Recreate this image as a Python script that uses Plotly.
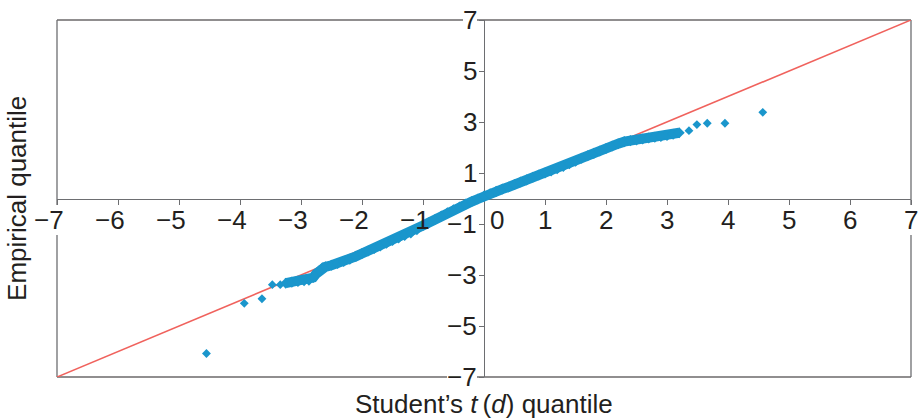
import plotly.graph_objects as go

# ---- data ----
# isolated tail points (theoretical t(d) quantile, empirical quantile)
tail_q = [-4.55, -3.93, -3.64, -3.47, -3.34, 3.36, 3.49, 3.66, 3.95, 4.57]
tail_e = [-6.08, -4.11, -3.93, -3.38, -3.38, 2.66, 2.90, 2.95, 2.95, 3.38]

# dense body of the Q-Q cloud
body_q = [-3.25, -3.15, -3.05, -2.95, -2.87, -2.80, -2.75, -2.70, -2.65,
          -2.60, -2.50, -2.40, -2.30, -2.20, -2.10, -2.00, -1.90, -1.80,
          -1.70, -1.60, -1.50, -1.40, -1.30, -1.20, -1.10, -1.00, -0.90,
          -0.80, -0.70, -0.60, -0.50, -0.40, -0.30, -0.20, -0.10, 0.00,
          0.10, 0.20, 0.30, 0.40, 0.50, 0.60, 0.70, 0.80, 0.90, 1.00,
          1.10, 1.20, 1.30, 1.40, 1.50, 1.60, 1.70, 1.80, 1.90, 2.00,
          2.10, 2.20, 2.30, 2.40, 2.50, 2.60, 2.70, 2.80, 2.90, 3.00,
          3.10, 3.20]
body_e = [-3.32, -3.28, -3.25, -3.22, -3.20, -3.10, -2.95, -2.82, -2.72,
          -2.68, -2.62, -2.55, -2.47, -2.38, -2.27, -2.16, -2.06, -1.96,
          -1.86, -1.75, -1.65, -1.55, -1.45, -1.35, -1.22, -1.06, -0.94,
          -0.81, -0.69, -0.56, -0.44, -0.33, -0.22, -0.12, -0.02, 0.10,
          0.19, 0.28, 0.37, 0.45, 0.55, 0.65, 0.73, 0.83, 0.92, 1.00,
          1.08, 1.17, 1.26, 1.36, 1.46, 1.58, 1.68, 1.77, 1.86, 1.96,
          2.06, 2.15, 2.23, 2.27, 2.30, 2.33, 2.37, 2.40, 2.43, 2.47,
          2.52, 2.58]

# 45-degree reference line endpoints (axis limits)
ref_line = [-7, 7]

x_ticks = [-7, -6, -5, -4, -3, -2, -1, 0, 1, 2, 3, 4, 5, 6, 7]
x_tick_labels = ["\u22127", "\u22126", "\u22125", "\u22124", "\u22123", "\u22122", "\u22121",
                 "0", "1", "2", "3", "4", "5", "6", "7"]
y_ticks = [-7, -5, -3, -1, 1, 3, 5, 7]
y_tick_labels = ["\u22127", "\u22125", "\u22123", "\u22121", "1", "3", "5", "7"]

x_title = "Student\u2019s <i>t</i>\u2009(<i>d</i>) quantile"
y_title = "Empirical quantile"

# ---- styles ----
FONT = "Liberation Sans, Arial, Helvetica, sans-serif"
TXT = "#231f20"
AXIS_GRAY = "#6d6e71"
BLUE = "#1a96cc"
RED = "#f0625d"
FS = 26

fig = go.Figure()
fig.add_trace(go.Scatter(x=ref_line, y=ref_line, mode="lines",
                         line=dict(color=RED, width=1.6), hoverinfo="skip",
                         showlegend=False))
fig.add_trace(go.Scatter(x=body_q, y=body_e, mode="lines+markers",
                         line=dict(color=BLUE, width=10),
                         marker=dict(symbol="diamond", size=8.5, color=BLUE,
                                     line=dict(width=0)),
                         showlegend=False))
fig.add_trace(go.Scatter(x=tail_q, y=tail_e, mode="markers",
                         marker=dict(symbol="diamond", size=6.8, color=BLUE,
                                     line=dict(width=0)),
                         showlegend=False))

fig.update_layout(
    width=921, height=419,
    margin=dict(l=57, r=10, t=20, b=42),
    paper_bgcolor="white", plot_bgcolor="white",
    font=dict(family=FONT, size=FS, color=TXT),
    xaxis=dict(range=[-7, 7], anchor="free", position=0.5,
               showline=True, linecolor=AXIS_GRAY, linewidth=1.3,
               ticks="outside", ticklen=5, tickwidth=1.2, tickcolor=AXIS_GRAY,
               tickvals=x_ticks, showticklabels=False,
               showgrid=False, zeroline=False, layer="below traces"),
    yaxis=dict(range=[-7, 7], anchor="free", position=0.5,
               showline=True, linecolor=AXIS_GRAY, linewidth=1.3,
               ticks="outside", ticklen=5, tickwidth=1.2, tickcolor=AXIS_GRAY,
               tickvals=y_ticks, showticklabels=False,
               showgrid=False, zeroline=False, layer="below traces"),
)

# frame: black top/bottom, gray left/right
fig.add_shape(type="line", xref="paper", yref="paper", x0=0, x1=1, y0=1, y1=1,
              line=dict(color="#231f20", width=1.2), layer="below")
fig.add_shape(type="line", xref="paper", yref="paper", x0=0, x1=1, y0=0, y1=0,
              line=dict(color="#231f20", width=1.2), layer="below")
fig.add_shape(type="line", xref="paper", yref="paper", x0=0, x1=0, y0=0, y1=1,
              line=dict(color=AXIS_GRAY, width=1.3), layer="below")
fig.add_shape(type="line", xref="paper", yref="paper", x0=1, x1=1, y0=0, y1=1,
              line=dict(color=AXIS_GRAY, width=1.3), layer="below")

# tick labels; only the ones sitting on the frame get a white backing
for v, lab in zip(x_ticks, x_tick_labels):
    shift = -7.6 if v < 0 else (12.5 if v == 0 else 0)
    on_frame = abs(v) == 7
    fig.add_annotation(x=v, y=0, xref="x", yref="y", text=lab, showarrow=False,
                       xanchor="center", yanchor="middle", xshift=shift, yshift=-21,
                       bgcolor="white" if on_frame else "rgba(0,0,0,0)",
                       borderpad=0, borderwidth=0,
                       font=dict(size=FS, color=TXT, family=FONT))
for v, lab in zip(y_ticks, y_tick_labels):
    on_frame = abs(v) == 7
    fig.add_annotation(x=0, y=v, xref="x", yref="y", text=lab, showarrow=False,
                       xanchor="right", yanchor="middle", xshift=-7, yshift=0,
                       bgcolor="white" if on_frame else "rgba(0,0,0,0)",
                       borderpad=0, borderwidth=0,
                       font=dict(size=FS, color=TXT, family=FONT))

# axis titles
fig.add_annotation(x=-0.0475, y=0.5, xref="paper", yref="paper", text=y_title,
                   showarrow=False, textangle=-90, xanchor="center", yanchor="middle",
                   font=dict(size=FS, color=TXT, family=FONT))
fig.add_annotation(x=0.5, y=-0.075, xref="paper", yref="paper", text=x_title,
                   showarrow=False, xanchor="center", yanchor="middle",
                   font=dict(size=FS, color=TXT, family=FONT))

fig.write_html("out.html", config={"displayModeBar": False},
               post_script="document.body.style.margin='0';document.body.style.padding='0';")
